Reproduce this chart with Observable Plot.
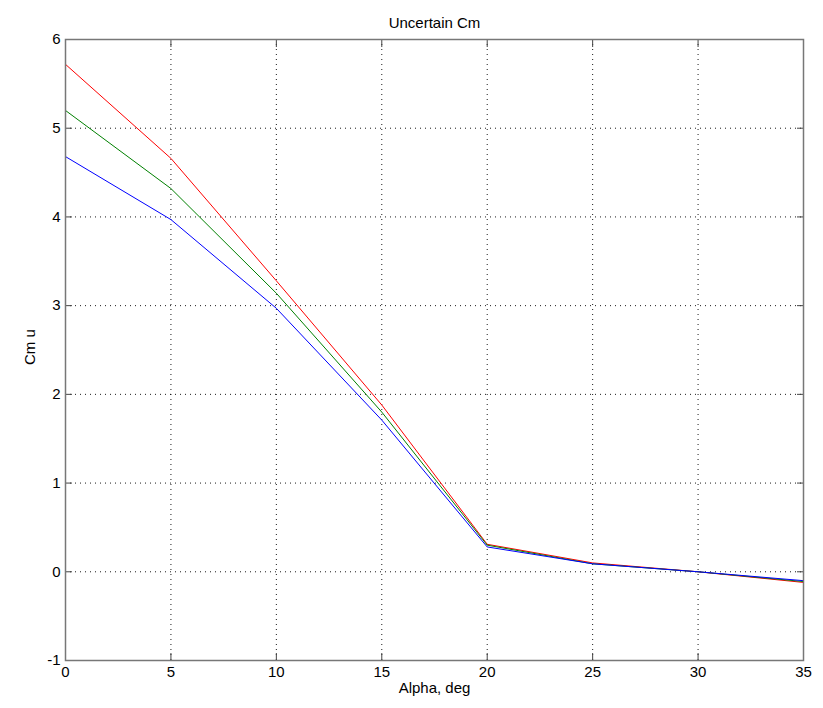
<!DOCTYPE html>
<html>
<head>
<meta charset="utf-8">
<script src="https://cdn.jsdelivr.net/npm/d3@7"></script>
<script src="https://cdn.jsdelivr.net/npm/@observablehq/plot@0.6"></script>
<style>
  body { margin: 0; background: #fff; }
  #chart { position: relative; width: 823px; height: 708px; }
  svg { font-family: "Liberation Sans", Arial, sans-serif; }
</style>
</head>
<body>
<div id="chart"></div>
<script>
const alpha = [0, 5, 10, 15, 20, 25, 30, 35];
const cmRed   = [5.72, 4.66, 3.28, 1.88, 0.31, 0.10, 0.00, -0.12];
const cmGreen = [5.20, 4.32, 3.14, 1.80, 0.30, 0.09, 0.00, -0.11];
const cmBlue  = [4.68, 3.97, 2.97, 1.71, 0.28, 0.09, 0.00, -0.10];
const seriesNames = ["red", "green", "blue"];
const seriesColors = ["#ff0000", "#008000", "#0000ff"];
const xTicks = [0, 5, 10, 15, 20, 25, 30, 35];
const yTicks = [-1, 0, 1, 2, 3, 4, 5, 6];

const allSeries = [cmRed, cmGreen, cmBlue];
const rows = [];
allSeries.forEach((vals, i) => {
  alpha.forEach((a, j) => rows.push({alpha: a, cm: vals[j], s: seriesNames[i]}));
});

const grid = {stroke: "#000", strokeOpacity: 0.9, strokeDasharray: "1,4"};
const tickStroke = "#444";
const fmt = d => String(d);

const chart = Plot.plot({
  width: 823,
  height: 708,
  marginLeft: 65,
  marginRight: 20,
  marginTop: 39,
  marginBottom: 48,
  style: {fontSize: "15px", fontFamily: "Liberation Sans, Arial, sans-serif", color: "#000", background: "#fff"},
  x: {domain: [0, 35]},
  y: {domain: [-1, 6]},
  color: {domain: seriesNames, range: seriesColors},
  marks: [
    Plot.gridX(xTicks, grid),
    Plot.gridY(yTicks, grid),
    Plot.axisX(xTicks, {tickSize: -7, tickPadding: 13, tickFormat: fmt, stroke: tickStroke, label: null, fill: "#000", fontSize: 15}),
    Plot.axisX(xTicks, {anchor: "top", tickSize: -7, tickFormat: () => "", stroke: tickStroke, label: null}),
    Plot.axisY(yTicks, {tickSize: -7, tickPadding: 12, tickFormat: fmt, stroke: tickStroke, label: null, fill: "#000", fontSize: 15}),
    Plot.axisY(yTicks, {anchor: "right", tickSize: -7, tickFormat: () => "", stroke: tickStroke, label: null}),
    Plot.line(rows, {x: "alpha", y: "cm", z: "s", stroke: "s", strokeWidth: 1}),
    Plot.frame({stroke: "#777", strokeWidth: 1.5}),
    Plot.text(["Uncertain Cm"], {frameAnchor: "top", dy: -22, fontSize: 15, fill: "#000"}),
    Plot.text(["Alpha, deg"], {frameAnchor: "bottom", dy: 32, fontSize: 15, fill: "#000"}),
    Plot.text(["Cm u"], {frameAnchor: "left", dx: -35, dy: 15, rotate: -90, fontSize: 15, fill: "#000"})
  ]
});
document.getElementById("chart").appendChild(chart);
</script>
</body>
</html>
